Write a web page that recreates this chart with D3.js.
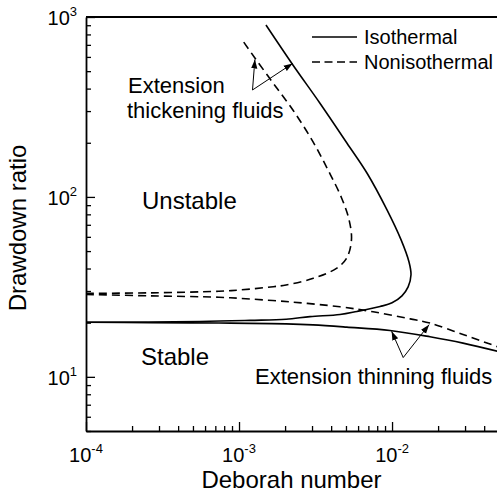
<!DOCTYPE html>
<html lang="en">
<head>
  <meta charset="UTF-8">
  <title>Drawdown ratio vs Deborah number</title>
  <script src="https://d3js.org/d3.v7.min.js"></script>
  <style>
    body {
      margin: 0;
      padding: 0;
      background: #fff;
      font-family: Arial, "Liberation Sans", sans-serif;
    }
    text {
      fill: #000;
    }
  </style>
</head>
<body>
  <div id="chart"></div>

  <script>
    // Deborah number / drawdown ratio
    const isoUpperX = [1e-4, 5.56e-4, 1.18e-3, 2.03e-3, 2.91e-3, 4.57e-3, 5.90e-3, 8.36e-3, 1.0e-2, 1.161e-2, 1.274e-2, 1.330e-2, 1.291e-2, 1.146e-2, 9.27e-3, 6.87e-3, 5.08e-3, 3.38e-3, 2.25e-3, 1.50e-3];
    const isoUpperY = [20.1, 20.3, 20.6, 20.9, 21.6, 22.2, 23.1, 24.6, 25.8, 28.2, 31.6, 36.9, 43.5, 57.7, 84.7, 135.4, 198.8, 331.6, 541, 902];

    const isoLowerX = [1e-4, 2.62e-4, 7.39e-4, 2.03e-3, 3.05e-3, 5.06e-3, 9.7e-3, 1.77e-2, 2.91e-2, 5.0e-2];
    const isoLowerY = [20.1, 20.0, 19.9, 19.7, 19.45, 18.9, 18.1, 16.7, 15.4, 13.8];

    const nonUpperX = [1e-4, 2.62e-4, 7.39e-4, 1.015e-3, 1.675e-3, 2.03e-3, 3.06e-3, 4.36e-3, 5.06e-3, 5.43e-3, 5.24e-3, 4.68e-3, 3.82e-3, 3.00e-3, 2.25e-3, 1.675e-3, 1.27e-3, 1.06e-3];
    const nonUpperY = [29.1, 29.3, 29.9, 30.4, 31.7, 32.4, 35.3, 40.2, 45.8, 57.7, 74.5, 98.7, 141, 207, 304, 428, 592, 736];

    const nonLowerX = [1e-4, 2.62e-4, 7.39e-4, 1.015e-3, 2.15e-3, 4.57e-3, 7.52e-3, 1.313e-2, 1.77e-2, 2.91e-2, 5.0e-2];
    const nonLowerY = [28.7, 28.2, 27.7, 27.3, 26.1, 24.5, 23.0, 21.0, 19.9, 17.2, 14.6];

    const xTicks = [1e-4, 1e-3, 1e-2];
    const xTickExp = ["-4", "-3", "-2"];
    const yTicks = [10, 100, 1000];
    const yTickExp = ["1", "2", "3"];

    // arrows: [from, to] in data units
    const thickArrowsX = [[1.225e-3, 1.27e-3], [1.225e-3, 2.24e-3]];
    const thickArrowsY = [[393, 581], [393, 552]];
    const thinArrowsX = [[1.183e-2, 9.94e-3], [1.183e-2, 1.746e-2]];
    const thinArrowsY = [[12.8, 17.9], [12.8, 19.5]];

    const width = 497, height = 495;
    const mLeft = 86, mTop = 17, mBottom = 431, mRight = 499;

    const svg = d3.select("#chart")
      .append("svg")
      .attr("width", width)
      .attr("height", height);

    const defs = svg.append("defs");
    defs.append("clipPath").attr("id", "plot")
      .append("rect")
      .attr("x", mLeft).attr("y", mTop)
      .attr("width", mRight - mLeft).attr("height", mBottom - mTop);
    defs.append("marker")
      .attr("id", "head")
      .attr("viewBox", "0 0 10 10")
      .attr("refX", 10).attr("refY", 5)
      .attr("markerWidth", 9).attr("markerHeight", 9)
      .attr("markerUnits", "userSpaceOnUse")
      .attr("orient", "auto")
      .append("path")
      .attr("d", "M0,1.5 L10,5 L0,8.5 Z")
      .attr("fill", "#000");

    const x = d3.scaleLog().domain([1e-4, 0.05]).range([mLeft, mRight]);
    const y = d3.scaleLog().domain([5, 1000]).range([mBottom, mTop]);

    const isMajor = (list, d) => list.some(t => Math.abs(t - d) / t < 1e-6);

    // axes with inward ticks
    const xAxis = d3.axisBottom(x)
      .tickValues(d3.range(-4, -1).flatMap(e => d3.range(1, 10).map(m => m * Math.pow(10, e))).filter(v => v <= 0.05))
      .tickSizeInner(0).tickSizeOuter(0).tickFormat("");
    const gx = svg.append("g").attr("transform", `translate(0,${mBottom})`).call(xAxis);
    gx.selectAll(".tick line")
      .attr("y2", d => isMajor(xTicks, d) ? -9 : -5)
      .attr("stroke-width", 1.3);
    gx.select(".domain").attr("stroke-width", 1.8);

    const yAxis = d3.axisLeft(y)
      .tickValues(d3.range(0, 3).flatMap(e => d3.range(1, 10).map(m => m * Math.pow(10, e))).filter(v => v >= 5).concat([1000]))
      .tickSizeInner(0).tickSizeOuter(0).tickFormat("");
    const gy = svg.append("g").attr("transform", `translate(${mLeft},0)`).call(yAxis);
    gy.selectAll(".tick line")
      .attr("x2", d => isMajor(yTicks, d) ? 9 : 5)
      .attr("stroke-width", 1.3);
    gy.select(".domain").attr("stroke-width", 1.8);

    svg.append("line")
      .attr("x1", mLeft).attr("x2", mRight)
      .attr("y1", mTop).attr("y2", mTop)
      .attr("stroke", "#000").attr("stroke-width", 1.8);

    // tick labels
    xTicks.forEach((t, i) => {
      const lab = svg.append("text")
        .attr("x", x(t)).attr("y", 462)
        .attr("text-anchor", "middle")
        .attr("font-size", 20);
      lab.append("tspan").text("10");
      lab.append("tspan").attr("dy", -9).attr("font-size", 13).text(xTickExp[i]);
    });
    yTicks.forEach((t, i) => {
      const lab = svg.append("text")
        .attr("x", 77).attr("y", y(t) + 8)
        .attr("text-anchor", "end")
        .attr("font-size", 20);
      lab.append("tspan").text("10");
      lab.append("tspan").attr("dy", -9).attr("font-size", 13).text(yTickExp[i]);
    });

    svg.append("text")
      .attr("x", (mLeft + width) / 2).attr("y", 488)
      .attr("text-anchor", "middle")
      .attr("font-size", 24)
      .text("Deborah number");
    svg.append("text")
      .attr("transform", "translate(26,228) rotate(-90)")
      .attr("text-anchor", "middle")
      .attr("font-size", 24)
      .text("Drawdown ratio");

    // curves
    const line = d3.line()
      .x(d => x(d[0]))
      .y(d => y(d[1]))
      .curve(d3.curveCatmullRom.alpha(0.5));

    const curves = [
      { xs: isoUpperX, ys: isoUpperY, dash: null },
      { xs: isoLowerX, ys: isoLowerY, dash: null },
      { xs: nonUpperX, ys: nonUpperY, dash: "8,5" },
      { xs: nonLowerX, ys: nonLowerY, dash: "8,5" }
    ];
    const plot = svg.append("g").attr("clip-path", "url(#plot)");
    curves.forEach(c => {
      plot.append("path")
        .datum(d3.zip(c.xs, c.ys))
        .attr("d", line)
        .attr("fill", "none")
        .attr("stroke", "#000")
        .attr("stroke-width", 1.6)
        .attr("stroke-dasharray", c.dash);
    });

    // arrows
    const arrows = thickArrowsX.map((a, i) => [a, thickArrowsY[i]])
      .concat(thinArrowsX.map((a, i) => [a, thinArrowsY[i]]));
    arrows.forEach(([ax, ay]) => {
      svg.append("line")
        .attr("x1", x(ax[0])).attr("y1", y(ay[0]))
        .attr("x2", x(ax[1])).attr("y2", y(ay[1]))
        .attr("stroke", "#000").attr("stroke-width", 1)
        .attr("marker-end", "url(#head)");
    });

    // annotations
    const notes = [
      { t: "Extension", x: 128, y: 93, s: 22 },
      { t: "thickening fluids", x: 127, y: 118, s: 22 },
      { t: "Unstable", x: 142, y: 209, s: 24 },
      { t: "Stable", x: 141, y: 365, s: 24 },
      { t: "Extension thinning fluids", x: 255, y: 384, s: 22 }
    ];
    notes.forEach(n => {
      svg.append("text")
        .attr("x", n.x).attr("y", n.y)
        .attr("font-size", n.s)
        .text(n.t);
    });

    // legend
    const legend = svg.append("g");
    [["Isothermal", null, 37], ["Nonisothermal", "8,4.5", 62]].forEach(([name, dash, ly]) => {
      legend.append("line")
        .attr("x1", 312).attr("x2", 357)
        .attr("y1", ly).attr("y2", ly)
        .attr("stroke", "#000").attr("stroke-width", 1.6)
        .attr("stroke-dasharray", dash);
      legend.append("text")
        .attr("x", 364).attr("y", ly + 7)
        .attr("font-size", 20)
        .text(name);
    });
  </script>
</body>
</html>
